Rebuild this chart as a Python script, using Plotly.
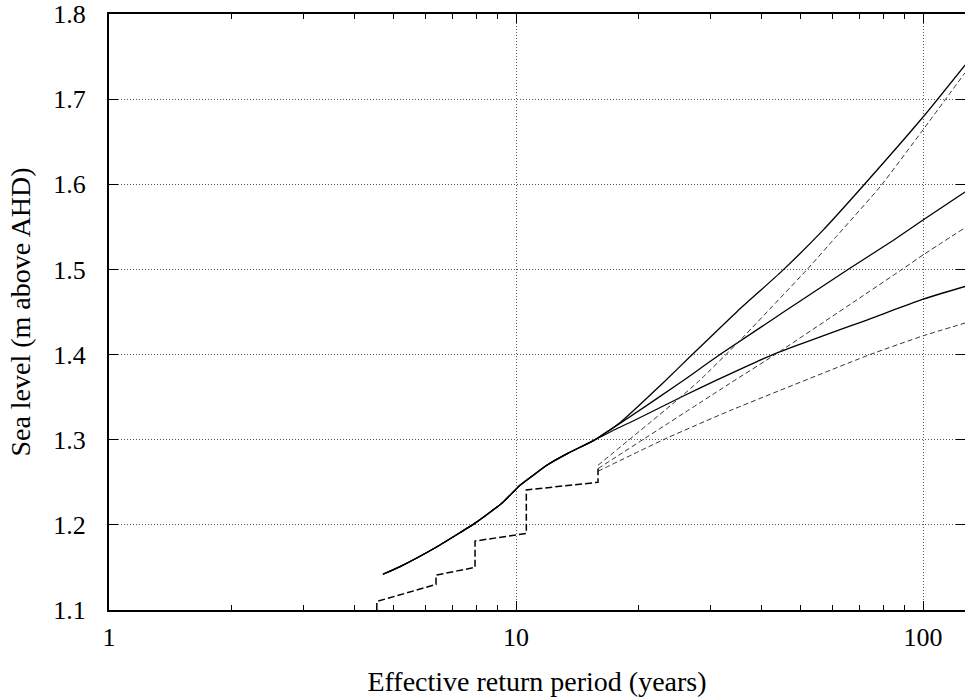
import plotly.graph_objects as go

# ---- data ----
# common part of the three fitted (solid) curves
solid_common_x = [4.71, 5.19, 6.38, 7.29, 7.93, 9.26, 10.2, 10.8, 11.9, 13.4, 15.5]
solid_common_y = [1.142, 1.151, 1.174, 1.191, 1.202, 1.226, 1.246, 1.255, 1.270, 1.284, 1.299]

solid_top_x = [18.0, 23.0, 27.1, 35.0, 45.0, 56.5, 71.2, 100.0, 126.8]
solid_top_y = [1.320, 1.367, 1.400, 1.451, 1.498, 1.545, 1.598, 1.679, 1.740]

solid_mid_x = [18.0, 25.5, 31.7, 65.4, 84.4, 100.0, 126.8]
solid_mid_y = [1.319, 1.368, 1.400, 1.500, 1.534, 1.558, 1.591]

solid_low_x = [17.5, 19.4, 25.7, 31.1, 42.8, 74.1, 100.0, 126.8]
solid_low_y = [1.312, 1.322, 1.351, 1.370, 1.400, 1.442, 1.465, 1.480]

# empirical (step) series
emp_x = [4.55, 4.55, 6.36, 6.36, 7.93, 7.93, 10.6, 10.6, 15.9, 15.9]
emp_y = [1.100, 1.110, 1.130, 1.141, 1.150, 1.181, 1.190, 1.241, 1.250, 1.266]

# thin dashed curves
dash_top_x = [15.9, 24.8, 28.3, 34.9, 51.9, 60.8, 78.4, 100.0, 126.8]
dash_top_y = [1.270, 1.346, 1.370, 1.413, 1.500, 1.537, 1.597, 1.664, 1.731]

dash_mid_x = [15.9, 33.5, 43.3, 88.8, 100.0, 126.8]
dash_mid_y = [1.266, 1.366, 1.400, 1.500, 1.517, 1.549]

dash_low_x = [15.9, 23.5, 33.5, 74.1, 100.0, 126.8]
dash_low_y = [1.263, 1.302, 1.334, 1.400, 1.422, 1.437]

x_tick_vals = [1, 10, 100]
x_tick_text = ["1", "10", "100"]
x_minor_vals = [2, 3, 4, 5, 6, 7, 8, 9, 20, 30, 40, 50, 60, 70, 80, 90]
y_tick_vals = [1.1, 1.2, 1.3, 1.4, 1.5, 1.6, 1.7, 1.8]

FONT = "Liberation Serif"

fig = go.Figure()

for tx, ty in [(solid_top_x, solid_top_y), (solid_mid_x, solid_mid_y), (solid_low_x, solid_low_y)]:
    fig.add_trace(go.Scatter(
        x=solid_common_x + tx, y=solid_common_y + ty, mode="lines",
        line=dict(color="black", width=1.3, shape="spline", smoothing=0.5),
        showlegend=False, hoverinfo="skip"))

for tx, ty in [(dash_top_x, dash_top_y), (dash_mid_x, dash_mid_y), (dash_low_x, dash_low_y)]:
    fig.add_trace(go.Scatter(
        x=tx, y=ty, mode="lines",
        line=dict(color="#333333", width=1, dash="5px,3px", shape="spline", smoothing=0.5),
        showlegend=False, hoverinfo="skip"))

fig.add_trace(go.Scatter(
    x=emp_x, y=emp_y, mode="lines",
    line=dict(color="black", width=1.5, dash="7px,3px"),
    showlegend=False, hoverinfo="skip"))

fig.update_layout(
    width=965, height=698,
    margin=dict(l=109, r=0, t=14, b=88),
    paper_bgcolor="white", plot_bgcolor="white",
    font=dict(family=FONT, size=26, color="black"),
    showlegend=False,
)

fig.update_xaxes(
    type="log", range=[0, 2.1031], automargin=False,
    tickvals=x_tick_vals, ticktext=x_tick_text,
    ticks="inside", ticklen=9, tickwidth=1, tickcolor="black",
    showline=True, linecolor="black", linewidth=2, mirror="ticks",
    showgrid=True, gridcolor="#555555", gridwidth=1, griddash="1px,2px",
    zeroline=False, ticklabeloverflow="allow",
    minor=dict(tickvals=x_minor_vals, ticks="inside", ticklen=5, tickwidth=1,
               tickcolor="black", showgrid=False),
    ticklabelstandoff=3,
    title=dict(text="Effective return period (years)", font=dict(size=28), standoff=20),
)

fig.update_yaxes(
    range=[1.1, 1.8], automargin=False,
    tickvals=y_tick_vals, tickformat=".1f",
    ticks="inside", ticklen=9, tickwidth=1, tickcolor="black",
    showline=True, linecolor="black", linewidth=2, mirror="ticks",
    showgrid=True, gridcolor="#555555", gridwidth=1, griddash="1px,2px",
    zeroline=False, ticklabeloverflow="allow",
    ticklabelstandoff=16,
    title=dict(text="Sea level (m above AHD)", font=dict(size=28), standoff=14),
)

fig.write_html(
    "out.html",
    config={"displayModeBar": False},
    post_script="document.body.style.margin='0px';document.body.style.overflow='hidden';",
)
